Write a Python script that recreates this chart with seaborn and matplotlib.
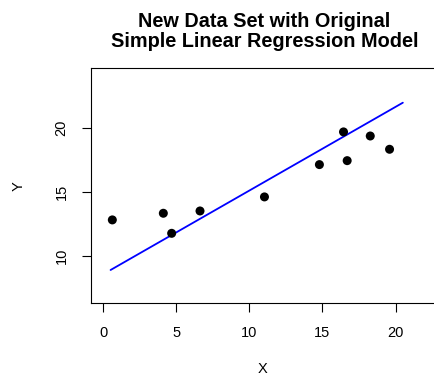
#!/usr/bin/env python3

# New data set plotted against the original simple linear regression fit

import matplotlib
matplotlib.use("Agg")
import matplotlib.pyplot as plt
import seaborn as sns
import pandas as pd

# new data points
x_new = [0.62, 4.11, 4.68, 6.62, 11.03, 14.79, 16.44, 16.69, 18.27, 19.59]
y_new = [12.80, 13.32, 11.75, 13.50, 14.60, 17.13, 19.69, 17.44, 19.37, 18.33]

# original model coefficients and the x span the line is drawn over
intercept = 8.55
slope = 0.655
line_x = [0.5, 20.5]

x_ticks = [0, 5, 10, 15, 20]
y_ticks = [10, 15, 20]


def main():
    sns.set_style("white")
    plt.rcParams["font.family"] = ["Liberation Sans", "DejaVu Sans"]
    for k in ["text.color", "axes.labelcolor", "xtick.color", "ytick.color"]:
        plt.rcParams[k] = "black"

    df = pd.DataFrame({"X": x_new, "Y": y_new})
    fit = pd.DataFrame({"X": line_x})
    fit["Y"] = intercept + slope * fit["X"]

    fig = plt.figure(figsize=(4.35, 3.77), dpi=100)
    ax = fig.add_axes([0.2085, 0.1955, 0.7915, 0.6233])

    sns.scatterplot(data=df, x="X", y="Y", color="black", s=42,
                    edgecolor="none", ax=ax, zorder=3)
    sns.lineplot(data=fit, x="X", y="Y", color="#0000ff", linewidth=1.3,
                 ax=ax, zorder=2)

    ax.set_xlim(-0.86, 22.7)
    ax.set_ylim(6.27, 24.67)
    ax.set_xticks(x_ticks)
    ax.set_yticks(y_ticks)
    ax.set_xticklabels([str(t) for t in x_ticks], fontsize=10.5)
    ax.set_yticklabels([str(t) for t in y_ticks], fontsize=10.5,
                       rotation=90, va="center")
    ax.tick_params(axis="both", direction="out", length=6.5, width=0.8,
                   color="black", bottom=True, left=True, pad=9.5)
    ax.set_xlabel("X", fontsize=10.5, labelpad=16)
    ax.set_ylabel("Y", fontsize=10.5, labelpad=21)
    for sp in ax.spines.values():
        sp.set_color("black")
        sp.set_linewidth(0.8)

    fig.text(0.608, 0.968, "New Data Set with Original\nSimple Linear Regression Model",
             ha="center", va="top", fontsize=14.3, fontweight="bold",
             linespacing=1.08)

    fig.savefig("out.png", dpi=100)


if __name__ == "__main__":
    main()
